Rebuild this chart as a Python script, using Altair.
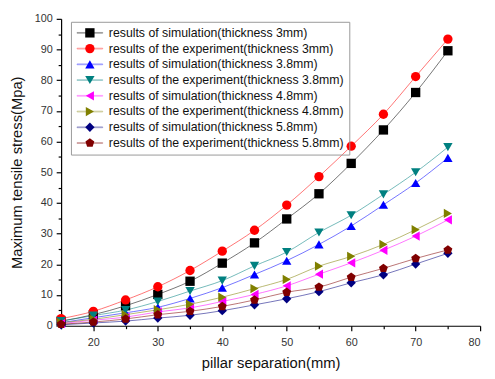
import altair as alt
import pandas as pd

x_vals = [15, 20, 25, 30, 35, 40, 45, 50, 55, 60, 65, 70, 75]
sim3 = [1.5, 3.6, 6.5, 10.2, 14.5, 20.4, 27.0, 34.8, 43.0, 52.9, 63.8, 76.0, 89.6]
exp3 = [2.3, 4.7, 8.4, 12.7, 18.0, 24.3, 31.1, 39.3, 48.6, 58.5, 68.9, 81.2, 93.4]
sim38 = [1.0, 2.6, 4.2, 6.0, 8.9, 12.4, 16.7, 21.2, 26.5, 32.5, 39.4, 46.5, 54.7]
exp38 = [1.5, 3.3, 5.1, 7.9, 11.3, 14.7, 19.5, 24.0, 30.4, 36.0, 42.8, 50.0, 58.2]
sim48 = [0.7, 1.8, 2.8, 4.5, 5.8, 7.9, 10.2, 13.0, 16.8, 20.5, 24.6, 29.2, 34.5]
exp48 = [1.0, 2.1, 3.6, 5.2, 7.0, 9.3, 12.1, 15.1, 19.4, 22.6, 26.5, 31.3, 36.6]
sim58 = [0.3, 0.9, 1.5, 2.5, 3.4, 4.9, 6.8, 8.8, 11.1, 14.0, 16.6, 20.1, 23.6]
exp58 = [0.5, 1.2, 2.2, 3.6, 4.7, 6.3, 8.4, 10.9, 12.6, 15.8, 18.7, 21.9, 24.7]

series_names = [
    "results of simulation(thickness 3mm)",
    "results of the experiment(thickness 3mm)",
    "results of simulation(thickness 3.8mm)",
    "results of the experiment(thickness 3.8mm)",
    "results of simulation(thickness 4.8mm)",
    "results of the experiment(thickness 4.8mm)",
    "results of simulation(thickness 5.8mm)",
    "results of the experiment(thickness 5.8mm)",
]
series_values = [sim3, exp3, sim38, exp38, sim48, exp48, sim58, exp58]
colors = ["#000000", "#FF0000", "#0000FF", "#008080", "#FF00FF", "#808000", "#000080", "#800000"]
pentagon = "M0,-1L0.951,-0.309L0.588,0.809L-0.588,0.809L-0.951,-0.309Z"
shapes = ["square", "circle", "triangle-up", "triangle-down", "triangle-left",
          "triangle-right", "diamond", pentagon]

rows = []
for name, vals in zip(series_names, series_values):
    for xv, yv in zip(x_vals, vals):
        rows.append({"sep": xv, "stress": yv, "series": name, "line_series": name})
df = pd.DataFrame(rows)

x_ticks = list(range(15, 81, 5))
y_ticks = list(range(0, 101, 5))

x_enc = alt.X("sep:Q", scale=alt.Scale(domain=[15, 80], nice=False),
              axis=alt.Axis(values=x_ticks, title="pillar separation(mm)",
                            labelExpr="datum.value % 10 == 0 ? datum.label : ''",
                            tickSize={"condition": {"test": "datum.value % 10 == 0", "value": 5}, "value": 3},
                            grid=False, labelPadding=6, titlePadding=8))
y_enc = alt.Y("stress:Q", scale=alt.Scale(domain=[0, 100], nice=False),
              axis=alt.Axis(values=y_ticks, title="Maximum tensile stress(Mpa)",
                            labelExpr="datum.value % 10 == 0 ? datum.label : ''",
                            tickSize={"condition": {"test": "datum.value % 10 == 0", "value": 5}, "value": 3},
                            grid=False, labelPadding=4, titlePadding=10))

line_legend = alt.Legend(symbolType="M-2.6,-0.08H2.6V0.08H-2.6Z", symbolSize=100, symbolStrokeWidth=0.6,
                         symbolOffset=8, labelOffset=13, strokeColor="#999999",
                         labelColor="#111111", symbolOpacity=0.6)
lines = alt.Chart(df).mark_line(interpolate="monotone", strokeWidth=1, opacity=0.55).encode(
    x=x_enc, y=y_enc,
    stroke=alt.Stroke("line_series:N", scale=alt.Scale(domain=series_names, range=colors),
                      legend=line_legend),
)

shape_legend = alt.Legend(symbolSize=90, symbolOffset=8, labelOpacity=0, labelColor="#ffffff",
                          labelOffset=13, symbolStrokeWidth=0)
points = alt.Chart(df).mark_point(filled=True, size=90, opacity=1).encode(
    x=x_enc, y=y_enc,
    fill=alt.Fill("series:N", scale=alt.Scale(domain=series_names, range=colors), legend=shape_legend),
    shape=alt.Shape("series:N", scale=alt.Scale(domain=series_names, range=shapes), legend=shape_legend),
)

chart = alt.layer(lines, points).resolve_legend(stroke="independent", fill="independent",
                                                 shape="independent").properties(
    width=426, height=312,
    padding={"left": 54, "top": 8, "right": 7, "bottom": 43},
    autosize=alt.AutoSizeParams(type="none"),
).configure_view(stroke=None).configure_axis(
    labelFont="Liberation Sans", labelFontSize=11, labelColor="#333333",
    titleFont="Liberation Sans", titleFontSize=15, titleFontWeight="normal", titleColor="#111111",
    domainColor="#000000", tickColor="#000000", domainWidth=1.2, tickWidth=1.2,
).configure_legend(
    orient="none", legendX=10, legendY=3, title=None,
    labelFont="Liberation Sans", labelFontSize=12.5, labelLimit=400,
    padding=5, rowPadding=3, titlePadding=0,
)

chart.save("out.html", embed_options={"renderer": "svg", "actions": False})
